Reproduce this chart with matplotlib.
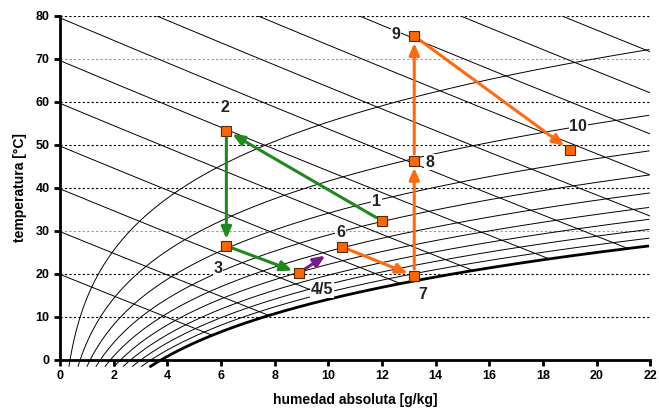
import numpy as np
import matplotlib
matplotlib.use("Agg")
import matplotlib.pyplot as plt

plt.rcParams['font.family'] = ['Liberation Sans', 'DejaVu Sans']

# state points (humedad absoluta g/kg, temperatura C)
labels = ["1", "2", "3", "4/5", "6", "7", "8", "9", "10"]
hum = [12.0, 6.2, 6.2, 8.9, 10.5, 13.2, 13.2, 13.2, 19.0]
temp = [32.3, 53.3, 26.5, 20.2, 26.3, 19.5, 46.3, 75.3, 48.8]

# arrows between states
green_path = ["1", "2", "3", "4/5"]
orange_path = ["6", "7", "8", "9", "10"]
purple_end = (10.1, 25.1)

# background chart levels
rh_levels = [0.1, 0.2, 0.3, 0.4, 0.5, 0.6, 0.7, 0.8, 0.9, 1.0]
h_levels = [20, 30, 40, 50, 60, 70, 80, 90, 100, 110, 120, 130]

P = 101.325  # kPa


def psat(t):
    return 0.61094 * np.exp(17.625 * t / (t + 243.04))


def x_of(t, phi):
    ps = phi * psat(t)
    return 622 * ps / (P - ps)


fig = plt.figure(figsize=(6.59, 4.16), dpi=100)
ax = fig.add_axes([0.091, 0.135, 0.896, 0.827])
ax.set_xlim(0, 22)
ax.set_ylim(0, 80)

# horizontal grid
for t in range(10, 81, 10):
    c = '#999999' if t in (30, 70) else 'black'
    ax.axhline(t, color=c, lw=0.8, ls=(0, (2, 2)), zorder=1)

# relative humidity curves
tt = np.linspace(-1.5, 80, 800)
for phi in rh_levels:
    xx = x_of(tt, phi)
    m = xx <= 22
    lw = 2.0 if phi == 1.0 else 0.7
    ax.plot(xx[m], tt[m], color='black', lw=lw, zorder=2, clip_on=False)

# enthalpy lines, stopped at saturation
tsat = np.linspace(-5, 80, 2000)
hsat = 1.006 * tsat + x_of(tsat, 1.0) / 1000 * (2501 + 1.86 * tsat)
for h in h_levels:
    ts = np.interp(h, hsat, tsat)
    xend = min(x_of(ts, 1.0), 22)
    xx = np.linspace(0, xend, 200)
    tl = (h - 2.501 * xx) / (1.006 + 0.00186 * xx)
    ax.plot(xx, tl, color='black', lw=0.7, zorder=2)

pts = dict(zip(labels, zip(hum, temp)))


def arrow(a, b, col):
    ax.annotate("", xy=b, xytext=a,
                arrowprops=dict(arrowstyle='-|>,head_length=0.7,head_width=0.3',
                                color=col, lw=2.2, shrinkA=5, shrinkB=5),
                zorder=4)


for a, b in zip(green_path[:-1], green_path[1:]):
    arrow(pts[a], pts[b], '#1e8a1e')
for a, b in zip(orange_path[:-1], orange_path[1:]):
    arrow(pts[a], pts[b], '#ff6a10')
arrow(pts["4/5"], purple_end, '#7a1a8a')

ax.plot(hum, temp, 's', ms=6.5, mfc='#ff6600', mec='#5a2a00', mew=0.8,
        ls='none', zorder=5)

offsets = [(-4, 14), (-1, 17), (-6, -16), (17, -12), (-1, 10),
           (6, -13), (11, -1), (-13, 1), (6, 17)]
for lab, x, y, off in zip(labels, hum, temp, offsets):
    ax.annotate(lab, (x, y), xytext=off, textcoords='offset points',
                ha='center', va='center', fontsize=11.5, fontweight='bold',
                color='#222222', zorder=6,
                bbox=dict(boxstyle='square,pad=0.05', fc='white', ec='none'))

ax.set_xticks(range(0, 23, 2))
ax.set_yticks(range(0, 81, 10))
for s in ['top', 'right']:
    ax.spines[s].set_visible(False)
for s in ['left', 'bottom']:
    ax.spines[s].set_linewidth(2)
ax.tick_params(width=2, length=4, labelsize=9)
for lb in ax.get_xticklabels() + ax.get_yticklabels():
    lb.set_fontweight('bold')
ax.set_xlabel("humedad absoluta [g/kg]", fontsize=10, fontweight='bold', labelpad=8)
ax.set_ylabel("temperatura [°C]", fontsize=10, fontweight='bold', labelpad=6)

fig.savefig("out.png", dpi=100)
